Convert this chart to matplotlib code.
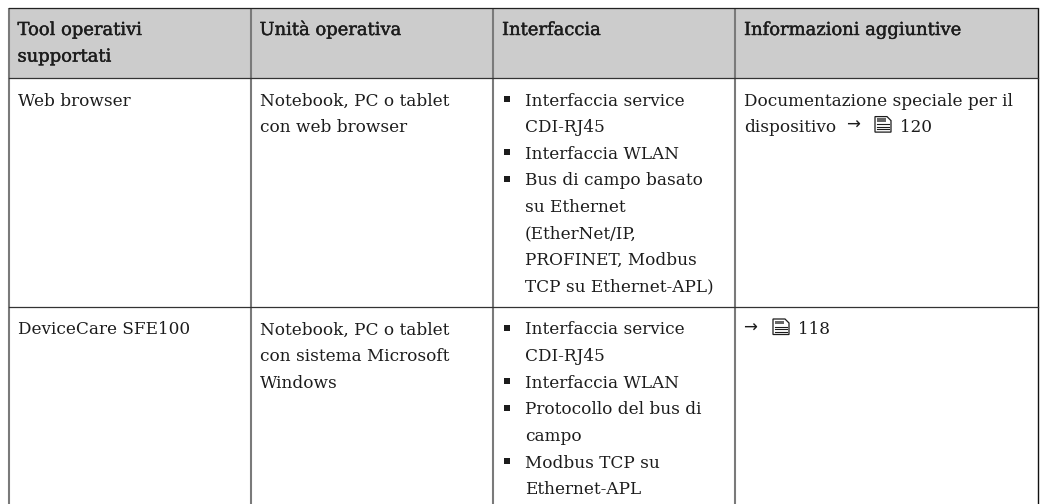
import matplotlib
matplotlib.use("Agg")
import matplotlib.pyplot as plt
import matplotlib.patheffects as pe
from matplotlib.patches import Rectangle, Polygon

headers = [["Tool operativi", "supportati"], ["Unità operativa"], ["Interfaccia"], ["Informazioni aggiuntive"]]
col1 = [["Web browser"], ["DeviceCare SFE100"]]
col2 = [["Notebook, PC o tablet", "con web browser"],
        ["Notebook, PC o tablet", "con sistema Microsoft", "Windows"]]
col3 = [[["Interfaccia service", "CDI-RJ45"], ["Interfaccia WLAN"],
         ["Bus di campo basato", "su Ethernet", "(EtherNet/IP,", "PROFINET, Modbus", "TCP su Ethernet-APL)"]],
        [["Interfaccia service", "CDI-RJ45"], ["Interfaccia WLAN"],
         ["Protocollo del bus di", "campo"], ["Modbus TCP su", "Ethernet-APL"]]]
doc_text = ["Documentazione speciale per il", "dispositivo"]
doc_pages = ["120", "118"]

col_x = [8.5, 250.5, 493, 735, 1037.5]
top_y, head_y, row_y, bottom_y = 7.5, 77.5, 306.5, 504
line_h = 26.6
pad = 9
FONT = "DejaVu Serif"
SIZE = 12.2
INK = "#1c1c1c"

fig = plt.figure(figsize=(10.44, 5.04), dpi=100)
ax = fig.add_axes([0, 0, 1, 1])
ax.set_xlim(0, 1044)
ax.set_ylim(504, 0)
ax.axis("off")


def txt(x, y, s, head=False):
    t = ax.text(x, y, s, family=FONT, size=12.9 if head else SIZE, color=INK, va="baseline", ha="left")
    if head:
        t.set_path_effects([pe.withStroke(linewidth=0.3, foreground=INK)])


def book(x, y):
    # little manual icon next to the page refs
    ax.add_patch(Polygon([(x, y - 15.5), (x + 12, y - 15.5), (x + 16, y - 11.5), (x + 16, y), (x, y)],
                         closed=True, fc="white", ec=INK, lw=0.9))
    ax.add_patch(Rectangle((x + 1.5, y - 14), 9, 3.5, fc="#666666", ec="none"))
    for dy in (-8, -5.5, -3):
        ax.plot([x + 2, x + 14], [y + dy, y + dy], color=INK, lw=0.8)


ax.add_patch(Rectangle((col_x[0], top_y), col_x[-1] - col_x[0], head_y - top_y, fc="#cccccc", ec="none"))

for x in col_x[:-1]:
    ax.plot([x, x], [top_y, bottom_y], color="#7a7a7a", lw=1.5, solid_capstyle="butt")
ax.plot([col_x[-1]] * 2, [top_y, bottom_y], color="#111111", lw=1, solid_capstyle="butt")
for y, c in ((top_y, "#222222"), (head_y, "#333333"), (row_y, "#333333")):
    ax.plot([col_x[0], col_x[-1]], [y, y], color=c, lw=0.9)

for i, head in enumerate(headers):
    for j, line in enumerate(head):
        txt(col_x[i] + pad, 35 + j * line_h, line, head=True)

first_y = [105.5, 334.5]
for r in range(2):
    y0 = first_y[r]
    txt(col_x[0] + pad, y0, col1[r][0])
    for j, line in enumerate(col2[r]):
        txt(col_x[1] + pad, y0 + j * line_h, line)
    n = 0
    for item in col3[r]:
        ax.plot(col_x[2] + 14, y0 + n * line_h - 6.5, marker="s", ms=4.8, color=INK, mew=0)
        for line in item:
            txt(col_x[2] + 32, y0 + n * line_h, line)
            n += 1

txt(col_x[3] + pad, first_y[0], doc_text[0])
txt(col_x[3] + pad, first_y[0] + line_h, doc_text[1])
arrow_x = [846, 743.5]
icon_x = [875, 773]
page_x = [900, 798]
arrow_y = [first_y[0] + line_h, first_y[1]]
for r in range(2):
    ax.text(arrow_x[r], arrow_y[r] - 2, "\u2192", family="DejaVu Sans", size=12, color=INK, va="baseline", ha="left")
    book(icon_x[r], arrow_y[r])
    txt(page_x[r], arrow_y[r], doc_pages[r])

fig.savefig("out.png", dpi=100)
